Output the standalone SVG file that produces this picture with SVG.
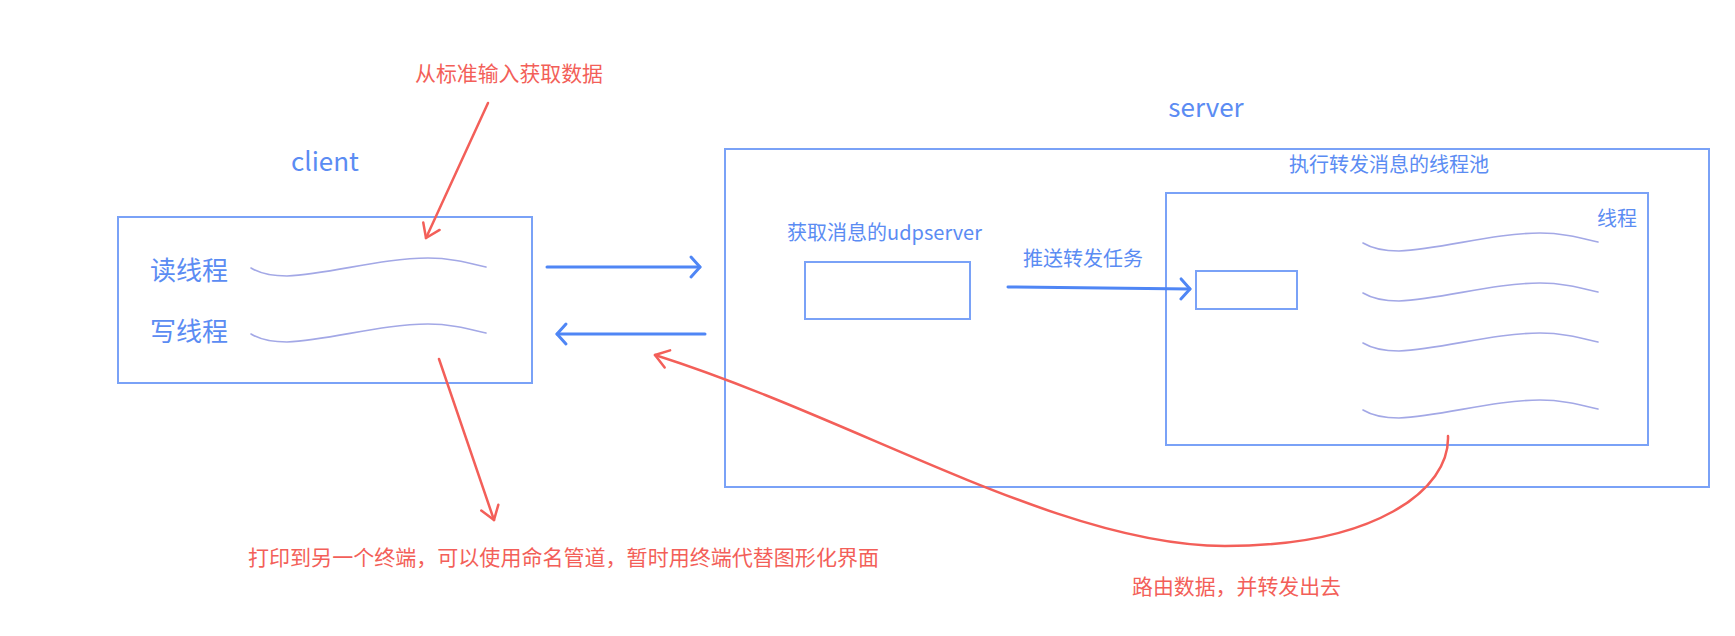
<svg xmlns="http://www.w3.org/2000/svg" xmlns:xlink="http://www.w3.org/1999/xlink" width="1735" height="636" viewBox="0 0 1735 636">
<style>
  .box { fill: none; stroke: #7aa2f7; stroke-width: 2; }
  .btxt { font-family: "Noto Sans CJK SC", "Noto Sans", sans-serif; fill: #5b8cf3; }
  .rtxt { font-family: "Noto Sans CJK SC", "Noto Sans", sans-serif; fill: #f35f59; font-size: 21px; }
  .wave { fill: none; stroke: #a3a8e6; stroke-width: 1.6; stroke-linecap: round; }
  .barrow { fill: none; stroke: #4f86f5; stroke-width: 3; stroke-linecap: round; }
  .rarrow { fill: none; stroke: #f35f59; stroke-width: 2.5; stroke-linecap: round; }
</style>
<defs>
  <marker id="bhead" markerUnits="userSpaceOnUse" viewBox="-12 -12 14 24" refX="0" refY="0" markerWidth="14" markerHeight="24" orient="auto" overflow="visible">
    <path d="M-9,-10 L0,0 L-9,10" fill="none" stroke="#4f86f5" stroke-width="3" stroke-linecap="round" stroke-linejoin="round"/>
  </marker>
  <marker id="rhead" markerUnits="userSpaceOnUse" viewBox="-16 -12 18 24" refX="0" refY="0" markerWidth="18" markerHeight="24" orient="auto" overflow="visible">
    <path d="M-13,-9 L0,0 L-13,9" fill="none" stroke="#f35f59" stroke-width="2.5" stroke-linecap="round" stroke-linejoin="round"/>
  </marker>
  <path id="wave" class="wave" d="M0,0 C10,6 22,8 36,8 C80,6 130,-10 177,-10 C200,-10 218,-5 235,-1"/>
</defs>

<g id="client">
  <text class="btxt" x="325" y="171" font-size="26" text-anchor="middle">client</text>
  <rect class="box" x="118" y="217" width="414" height="166"/>
  <text class="btxt" x="150" y="280" font-size="26">读线程</text>
  <text class="btxt" x="150" y="341" font-size="26">写线程</text>
  <use href="#wave" x="251" y="268"/>
  <use href="#wave" x="251" y="334"/>
</g>

<g id="server">
  <text class="btxt" x="1206" y="117" font-size="26" text-anchor="middle">server</text>
  <rect class="box" x="725" y="149" width="984" height="338"/>
</g>

<g id="udpserver">
  <text class="btxt" x="787" y="240" font-size="20">获取消息的udpserver</text>
  <rect class="box" x="805" y="262" width="165" height="57"/>
</g>

<g id="threadpool">
  <text class="btxt" x="1389" y="172" font-size="20" text-anchor="middle">执行转发消息的线程池</text>
  <rect class="box" x="1166" y="193" width="482" height="252"/>
  <text class="btxt" x="1597" y="226" font-size="20">线程</text>
  <rect class="box" x="1196" y="271" width="101" height="38"/>
  <use href="#wave" x="1363" y="243"/>
  <use href="#wave" x="1363" y="293"/>
  <use href="#wave" x="1363" y="343"/>
  <use href="#wave" x="1363" y="410"/>
</g>

<g id="labels">
  <text class="btxt" x="1023" y="266" font-size="20">推送转发任务</text>
  <text class="rtxt" x="415" y="81" textLength="188" lengthAdjust="spacingAndGlyphs">从标准输入获取数据</text>
  <text class="rtxt" x="248" y="565" textLength="631" lengthAdjust="spacingAndGlyphs">打印到另一个终端，可以使用命名管道，暂时用终端代替图形化界面</text>
  <text class="rtxt" x="1132" y="594" textLength="209" lengthAdjust="spacingAndGlyphs">路由数据，并转发出去</text>
</g>

<g id="connectors">
  <path class="barrow" d="M547,267 L700,267" marker-end="url(#bhead)"/>
  <path class="barrow" d="M705,334 L557,334" marker-end="url(#bhead)"/>
  <path class="barrow" d="M1008,287 L1190,289" marker-end="url(#bhead)"/>
  <path class="rarrow" d="M488,103 L426,238" marker-end="url(#rhead)"/>
  <path class="rarrow" d="M439,359 L494,520" marker-end="url(#rhead)"/>
  <path class="rarrow" d="M1448,436 C1450,490 1375,546 1225,546 C1060,546 860,420 655,355" marker-end="url(#rhead)"/>
</g>
</svg>
